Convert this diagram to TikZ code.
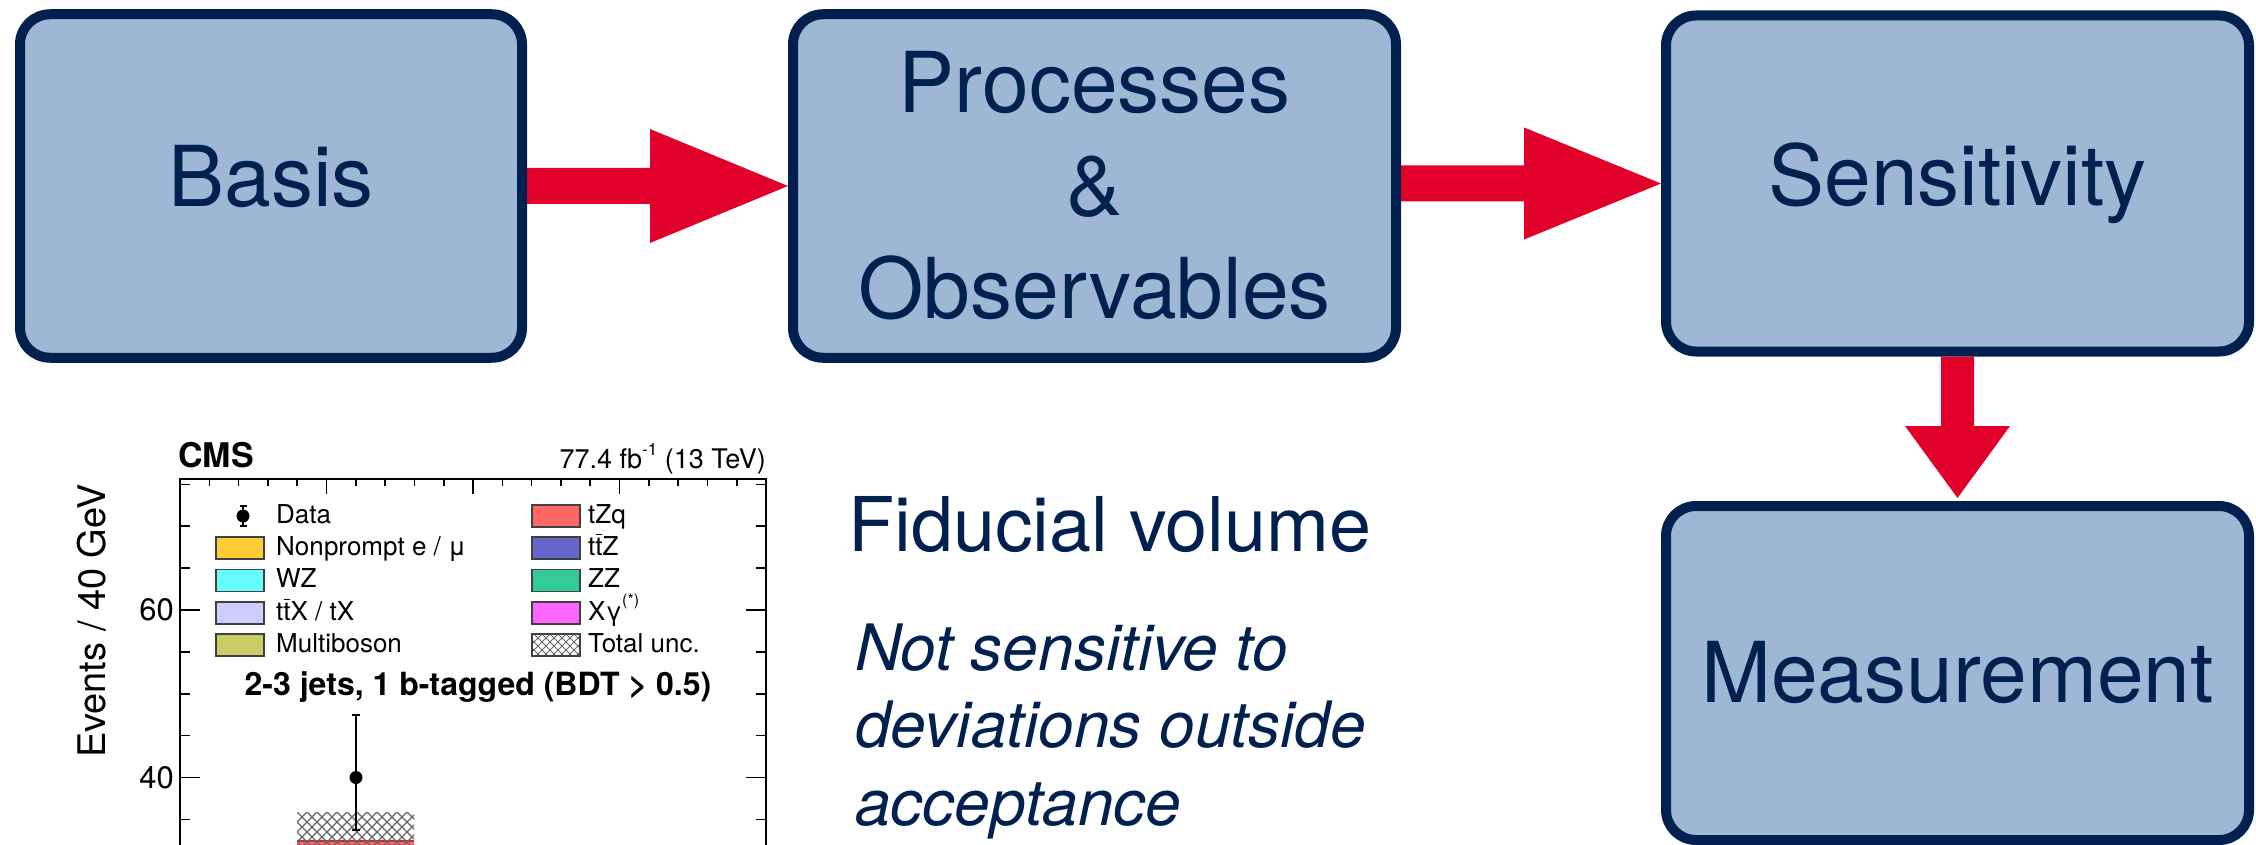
\documentclass[tikz,border=0pt]{standalone}
\usepackage{fontspec}
\setmainfont{TeX Gyre Heros}
\usetikzlibrary{calc}
\definecolor{navy}{HTML}{00214F}
\definecolor{boxfill}{HTML}{9DB7D4}
\definecolor{arrowred}{HTML}{E1002A}
\definecolor{cNonprompt}{HTML}{FFCC33}
\definecolor{cWZ}{HTML}{66FFFF}
\definecolor{cTTX}{HTML}{CCCCFF}
\definecolor{cMulti}{HTML}{CCCC66}
\definecolor{cTZQ}{HTML}{FF6666}
\definecolor{cTTZ}{HTML}{6666CC}
\definecolor{cZZ}{HTML}{33CC99}
\definecolor{cXG}{HTML}{FF66FF}
\definecolor{tzqedge}{HTML}{C03030}
\newcommand\mytbar{\leavevmode\rlap{t}\kern0.025em\raisebox{0.76em}{\rule{0.24em}{0.06em}}\kern0.013em}
\begin{document}
\begin{tikzpicture}[x=1pt,y=-1pt,
  stepbox/.style={draw=navy, fill=boxfill, line width=10pt, rounded corners=30pt,
    text=navy, font=\fontsize{84}{103}\selectfont, inner sep=0pt, align=center},
  bigarrow/.style={fill=arrowred},
  plaintext/.style={text=navy, anchor=base west, inner sep=0pt},
  axisline/.style={line width=1.6pt, black},
  lgbox/.style={draw=black!75, line width=1.5pt},
  lgtext/.style={anchor=base west, inner sep=0pt, font=\fontsize{26}{30}\selectfont},
  hatchline/.style={line width=1.3pt, black!60}]
\useasboundingbox (0,0) rectangle (2256,845);

% ---- flow boxes ----
\node[stepbox, minimum width=502pt, minimum height=343.5pt, text depth=20pt] (basis) at (271,186) {Basis};
\node[stepbox, minimum width=603pt, minimum height=343.5pt] (proc) at (1094.5,186) {Processes\\\&\\Observables};
\node[stepbox, minimum width=583pt, minimum height=336pt] (sens) at (1957.5,183.5) {Sensitivity};
\node[stepbox, minimum width=583pt, minimum height=334pt] (meas) at (1957.5,673) {Measurement};

% ---- arrows ----
\fill[bigarrow] ($(basis.east)+(0,-18)$) -- ($(proc.west)+(-138,-18)$) -- ($(proc.west)+(-138,-57)$)
  -- (proc.west) -- ($(proc.west)+(-138,57)$) -- ($(proc.west)+(-138,18)$) -- ($(basis.east)+(0,18)$) -- cycle;
\fill[bigarrow] ($(proc.east|-sens.west)+(0,-18)$) -- ($(sens.west)+(-137,-18)$) -- ($(sens.west)+(-137,-56)$)
  -- (sens.west) -- ($(sens.west)+(-137,56)$) -- ($(sens.west)+(-137,18)$) -- ($(proc.east|-sens.west)+(0,18)$) -- cycle;
\fill[bigarrow] ($(sens.south)+(-16.5,0)$) -- ($(meas.north)+(-16.5,-75)$) -- ($(meas.north)+(-52.5,-75)$)
  -- ($(meas.north)+(0,-3)$) -- ($(meas.north)+(52.5,-75)$) -- ($(meas.north)+(16.5,-75)$) -- ($(sens.south)+(16.5,0)$) -- cycle;

% ---- fiducial text ----
\node[plaintext, font=\fontsize{75.5}{80}\selectfont] (fid) at (848,551) {Fiducial volume};
\node[plaintext, font=\itshape\fontsize{64}{70}\selectfont] (note1) at (855,670) {Not sensitive to};
\node[plaintext, font=\itshape\fontsize{64}{70}\selectfont] (note2) at (855,747) {deviations outside};
\node[plaintext, font=\itshape\fontsize{64}{70}\selectfont] (note3) at (855,825) {acceptance};

% ---- CMS plot ----
\node[anchor=base west, inner sep=0pt, font=\bfseries\fontsize{34}{36}\selectfont] (cms) at (178,467) {CMS};
\node[anchor=base east, inner sep=0pt, font=\fontsize{27}{30}\selectfont] (lumi) at (766,468)
  {77.4 fb\raisebox{0.45em}{\fontsize{17}{18}\selectfont -1} (13 TeV)};
\node[rotate=90, inner sep=0pt, font=\fontsize{38}{40}\selectfont] (ytitle) at (92,621) {Events / 40 GeV};
\node[anchor=east, inner sep=0pt, font=\fontsize{31}{33}\selectfont] (y60) at (174,610) {60};
\node[anchor=east, inner sep=0pt, font=\fontsize{31}{33}\selectfont] (y40) at (174,777.5) {40};

% histogram content
\fill[cTZQ] (297,841) rectangle (414,850);
\draw[line width=2pt, tzqedge] (297,841) -- (414,841);
\begin{scope}
  \clip (297,812) rectangle (414,850);
  \foreach \k in {-60,-50,...,130}{
    \draw[hatchline] (297+\k,812) -- ++(40,40);
    \draw[hatchline] (297+\k,852) -- ++(40,-40);
  }
\end{scope}
% data point
\draw[line width=2pt] (356,715) -- (356,830);
\draw[line width=2pt] (352,715) -- (360,715);
\draw[line width=2pt] (352,830) -- (360,830);
\fill (356,777.5) circle[radius=6.5pt];

% frame and ticks
\draw[line width=2pt] (180,850) -- (180,479) -- (766,479) -- (766,850);
\foreach \i in {1,...,19}{
  \pgfmathsetmacro\tx{180+\i*29.3}
  \pgfmathsetmacro\tl{ifthenelse(mod(\i,5)==0,15,7)}
  \draw[axisline] (\tx,479) -- (\tx,479+\tl);
}
\foreach \v in {35,40,...,75}{
  \pgfmathsetmacro\ty{610-(\v-60)*8.375}
  \pgfmathsetmacro\tl{ifthenelse(mod(\v,20)==0,20,10)}
  \draw[axisline] (180,\ty) -- (180+\tl,\ty);
  \draw[axisline] (766,\ty) -- (766-\tl,\ty);
}

% legend
\draw[line width=1.8pt] (243,506) -- (243,526);
\draw[line width=1.8pt] (239.5,506) -- (246.5,506);
\draw[line width=1.8pt] (239.5,526) -- (246.5,526);
\fill (243,516) circle[radius=6.5pt];
\node[lgtext] (lg1) at (276,523) {Data};
\draw[lgbox, fill=cNonprompt] (216,537) rectangle (264,559);
\node[lgtext] (lg2) at (276,555) {Nonprompt e / μ};
\draw[lgbox, fill=cWZ] (216,569.5) rectangle (264,591.5);
\node[lgtext] (lg3) at (276,587.5) {WZ};
\draw[lgbox, fill=cTTX] (216,602) rectangle (264,624);
\node[lgtext] (lg4) at (276,620) {t\mytbar X / tX};
\draw[lgbox, fill=cMulti] (216,634) rectangle (264,656);
\node[lgtext] (lg5) at (276,652.5) {Multiboson};

\draw[lgbox, fill=cTZQ] (532,505) rectangle (580,527);
\node[lgtext] (lg6) at (588,523) {tZq};
\draw[lgbox, fill=cTTZ] (532,537) rectangle (580,559);
\node[lgtext] (lg7) at (588,555) {t\mytbar Z};
\draw[lgbox, fill=cZZ] (532,569.5) rectangle (580,591.5);
\node[lgtext] (lg8) at (588,587.5) {ZZ};
\draw[lgbox, fill=cXG] (532,602) rectangle (580,624);
\node[lgtext] (lg9) at (588,620) {Xγ\raisebox{0.55em}{\fontsize{16}{18}\selectfont (*)}};
\begin{scope}
  \clip (532,634) rectangle (580,656);
  \foreach \k in {-30,-22,...,50}{
    \draw[line width=1pt, black!60] (532+\k,634) -- ++(24,24);
    \draw[line width=1pt, black!60] (532+\k,658) -- ++(24,-24);
  }
\end{scope}
\draw[lgbox] (532,634) rectangle (580,656);
\node[lgtext] (lg10) at (588,652.5) {Total unc.};

\node[anchor=base, inner sep=0pt, font=\bfseries\fontsize{32}{34}\selectfont] (cat) at (478,695) {2-3 jets, 1 b-tagged (BDT > 0.5)};
\end{tikzpicture}
\end{document}
